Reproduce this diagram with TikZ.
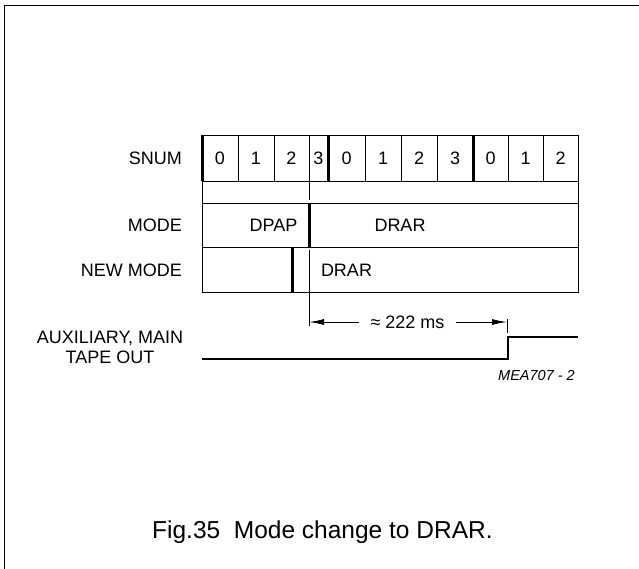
\documentclass[tikz,border=0pt]{standalone}
\usepackage{fontspec}
\setmainfont{Liberation Sans}
\usetikzlibrary{arrows.meta}
\begin{document}
\begin{tikzpicture}[x=1pt,y=-1pt,
  lbl/.style={font=\fontsize{18}{20}\selectfont, inner sep=0pt, text height=13pt, text depth=0pt},
  thinline/.style={line width=1pt},
  thickbar/.style={line width=3pt},
  wave/.style={line width=2pt},
  frameline/.style={line width=1.5pt},
  dimarrow/.style={line width=1pt, -{Latex[length=15pt,width=6pt]}},
]
\useasboundingbox (0,0) rectangle (639,568);
% frame
\draw[frameline] (4.5,570) -- (4.5,5.5) -- (641,5.5);

% table outline and rows
\draw[thinline] (202,135) rectangle (578,292);
\draw[thinline] (202,181) -- (578,181);
\draw[thinline] (202,203) -- (578,203);
\draw[thinline] (202,247) -- (578,247);
% SNUM cell dividers
\foreach \x in {238,274,309,365,401,437,508,543}
  \draw[thinline] (\x,135) -- (\x,181);
\foreach \x in {202,328,473}
  \draw[thickbar] (\x,135) -- (\x,181);
% markers
\draw[thinline] (309,182) -- (309,200);
\draw[thickbar] (309,203) -- (309,247);
\draw[thickbar] (292,247) -- (292,292);

% row labels
\node[lbl, anchor=east] (snum) at (182,158) {SNUM};
\node[lbl, anchor=east] (mode) at (182,225) {MODE};
\node[lbl, anchor=east] (newmode) at (182,269.5) {NEW MODE};

% SNUM digits
\node[lbl] (s0a) at (220,158) {0};
\node[lbl] (s1a) at (256,158) {1};
\node[lbl] (s2a) at (291.5,158) {2};
\node[lbl] (s3a) at (318.5,158) {3};
\node[lbl] (s0b) at (346.5,158) {0};
\node[lbl] (s1b) at (383,158) {1};
\node[lbl] (s2b) at (419,158) {2};
\node[lbl] (s3b) at (455,158) {3};
\node[lbl] (s0c) at (490.5,158) {0};
\node[lbl] (s1c) at (525.5,158) {1};
\node[lbl] (s2c) at (560.5,158) {2};

% mode texts
\node[lbl] (dpap) at (273.5,225) {DPAP};
\node[lbl] (drar1) at (400,225) {DRAR};
\node[lbl] (drar2) at (346.5,269.5) {DRAR};

% timing line and dimension
\coordinate (vtop) at (309,250);
\coordinate (vbot) at (309,326);
\draw[thinline] (vtop) -- (vbot);
\coordinate (arrL) at (309,322);
\coordinate (arrR) at (507,322);
\coordinate (tickT) at (507,319);
\coordinate (tickB) at (507,333);
\draw[thinline] (tickT) -- (tickB);
\node[lbl, inner xsep=11pt] (dur) at (407.5,322) {≈ 222 ms};
\draw[dimarrow] (dur.west) -- (arrL);
\draw[dimarrow] (dur.east) -- (arrR);

% waveform
\coordinate (w0) at (202,359);
\coordinate (w1) at (507.5,359);
\coordinate (w2) at (507.5,337);
\coordinate (w3) at (578,337);
\draw[wave] (w0) -- (w1) -- (w2) -- (w3);

\node[lbl, anchor=center] (aux1) at (110,337) {AUXILIARY, MAIN};
\node[lbl, anchor=center] (aux2) at (110,357) {TAPE OUT};

\node[inner sep=0pt, anchor=east, font=\fontsize{14.5}{16}\selectfont\itshape, text height=10.5pt, text depth=0pt] (mea) at (575,375) {MEA707 - 2};

% caption
\node[inner sep=0pt, anchor=base west, font=\fontsize{24.5}{28}\selectfont] (cap) at (152,538) {Fig.35\ \ Mode change to DRAR.};
\end{tikzpicture}
\end{document}
